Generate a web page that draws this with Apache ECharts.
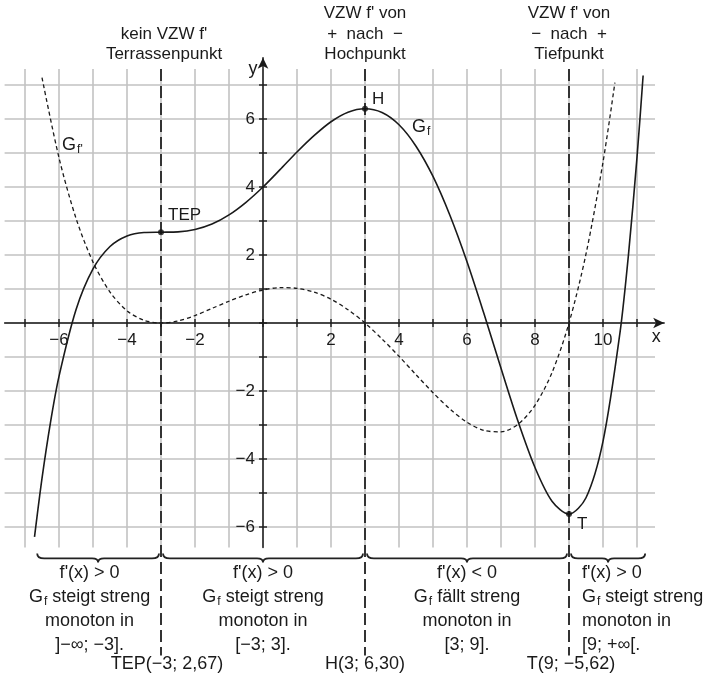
<!DOCTYPE html>
<html><head><meta charset="utf-8">
<script src="https://cdn.jsdelivr.net/npm/echarts@6/dist/echarts.min.js"></script>
<style>html,body{margin:0;padding:0;background:#fff}#c{width:709px;height:684px}</style>
</head><body><div id="c"></div>
<script>
// ---- data ----
const fX = [-6.72,-6.5,-6.25,-6,-5.5,-5,-4.5,-4,-3.5,-3,-2.5,-2,-1.5,-1,-0.5,0,0.5,1,1.5,2,2.5,3,3.5,4,4.5,5,5.5,6,6.5,7,7.5,8,8.5,9,9.5,10,10.5,10.75,11,11.18];
const fY = [-6.29,-4.57,-2.92,-1.57,0.39,1.59,2.25,2.56,2.66,2.67,2.68,2.75,2.91,3.18,3.55,4.00,4.51,5.03,5.51,5.92,6.20,6.30,6.19,5.83,5.20,4.31,3.16,1.80,0.27,-1.33,-2.89,-4.25,-5.24,-5.62,-5.14,-3.48,-0.28,2.02,4.87,7.28];
const dX = [-6.5,-6,-5.5,-5,-4.5,-4,-3.5,-3,-2.5,-2,-1.5,-1,-0.5,0,0.5,1,1.5,2,2.5,3,3.5,4,4.5,5,5.5,6,6.5,7,7.5,8,8.5,9,9.5,10,10.35];
const dY = [7.22,4.86,3.08,1.79,0.91,0.36,0.08,0,0.06,0.22,0.43,0.64,0.83,0.97,1.04,1.02,0.91,0.70,0.39,0,-0.47,-0.98,-1.52,-2.05,-2.53,-2.92,-3.16,-3.20,-2.98,-2.42,-1.46,0,2.03,4.73,7.07];
const gridXs = [-7,-6,-5,-4,-3,-2,-1,0,1,2,3,4,5,6,7,8,9,10,11];
const gridYs = [-6,-5,-4,-3,-2,-1,0,1,2,3,4,5,6,7];
const xTickLabels = [-6,-4,-2,2,4,6,8,10];
const yTickLabels = [-6,-4,-2,2,4,6];
const specialX = [-3,3,9];
const specialNames = ['TEP','H','T'];
const specialY = [2.67,6.30,-5.62];
const braceFrom = [-6.7,-3,3,9];
const braceTo = [-3,3,9,11.3];
const topNotes = [
  ["kein VZW f'","Terrassenpunkt"],
  ["VZW f' von","+  nach  \u2212","Hochpunkt"],
  ["VZW f' von","\u2212  nach  +","Tiefpunkt"]
];
const bottomNotes = [
  ["f'(x) > 0","{g|G}{s|f} steigt streng","monoton in","]\u2212\u221e; \u22123]."],
  ["f'(x) > 0","{g|G}{s|f} steigt streng","monoton in","[\u22123; 3]."],
  ["f'(x) < 0","{g|G}{s|f} fällt streng","monoton in","[3; 9]."],
  ["f'(x) > 0","{g|G}{s|f} steigt streng","monoton in","[9; +\u221e[."]
];
const pointNotes = ["TEP(\u22123; 2,67)","H(3; 6,30)","T(9; \u22125,62)"];

// ---- layout / style ----
const X_MIN=-7.6, X_MAX=11.8, Y_MIN=-6.6, Y_MAX=7.8;
const GRID_TOP_Y=7.47, GRID_RIGHT_X=11.53;
const FONT='"Liberation Sans", Arial, Helvetica, sans-serif';
const INK='#1a1a1a';
const fmt = v => v < 0 ? '\u2212' + Math.abs(v) : String(v);
const richSub = {
  g:{fontSize:18,fontFamily:FONT,color:INK},
  s:{fontSize:12,fontFamily:FONT,color:INK,padding:[9,0,0,1]}
};

const chart = echarts.init(document.getElementById('c'));

function lineEl(a,b,stroke,w,dash){
  const s={stroke:stroke,lineWidth:w};
  if(dash) s.lineDash=dash;
  return {type:'line',shape:{x1:a[0],y1:a[1],x2:b[0],y2:b[1]},style:s};
}
function textEl(x,y,t,size,align,vAlign){
  return {type:'text',x:x,y:y,style:{text:t,fill:INK,font:size+'px '+FONT,align:align,verticalAlign:vAlign,textAlign:align,textVerticalAlign:vAlign}};
}

const option = {
  animation:false,
  grid:{left:4.6,top:57.8,width:659.6,height:489.6,containLabel:false,outerBoundsMode:'none'},
  xAxis:{type:'value',min:X_MIN,max:X_MAX,z:3,
    axisLine:{onZero:true,symbol:['none','arrow'],symbolSize:[8,11],lineStyle:{color:INK,width:1.5}},
    axisTick:{show:false},splitLine:{show:false},axisLabel:{show:false}},
  yAxis:{type:'value',min:Y_MIN,max:Y_MAX,z:3,
    axisLine:{onZero:true,symbol:['none','arrow'],symbolSize:[8,11],lineStyle:{color:INK,width:1.5}},
    axisTick:{show:false},splitLine:{show:false},axisLabel:{show:false}},
  series:[
    {type:'custom',silent:true,z:1,clip:false,data:gridXs.map(v=>[v,0]),
      renderItem:(p,api)=>lineEl(api.coord([api.value(0),Y_MIN]),api.coord([api.value(0),GRID_TOP_Y]),'#c2c2c2',1.6)},
    {type:'custom',silent:true,z:1,clip:false,data:gridYs.map(v=>[0,v]),
      renderItem:(p,api)=>lineEl(api.coord([X_MIN,api.value(1)]),api.coord([GRID_RIGHT_X,api.value(1)]),'#c2c2c2',1.6)},
    {type:'custom',silent:true,z:4,clip:false,data:gridXs.map(v=>[v,0]),
      renderItem:(p,api)=>{const c=api.coord([api.value(0),0]);return lineEl([c[0],c[1]-4],[c[0],c[1]+4],INK,1.4);}},
    {type:'custom',silent:true,z:4,clip:false,data:gridYs.map(v=>[0,v]),
      renderItem:(p,api)=>{const c=api.coord([0,api.value(1)]);return lineEl([c[0]-4,c[1]],[c[0]+4,c[1]],INK,1.4);}},
    {type:'custom',silent:true,z:4,clip:false,data:xTickLabels.map(v=>[v,0]),
      renderItem:(p,api)=>{const c=api.coord([api.value(0),0]);return textEl(c[0],c[1]+9,fmt(api.value(0)),17,'center','top');}},
    {type:'custom',silent:true,z:4,clip:false,data:yTickLabels.map(v=>[0,v]),
      renderItem:(p,api)=>{const c=api.coord([0,api.value(1)]);return textEl(c[0]-8,c[1],fmt(api.value(1)),17,'right','middle');}},
    {type:'custom',silent:true,z:3,clip:false,data:specialX.map(v=>[v,0]),
      renderItem:(p,api)=>{const a=api.coord([api.value(0),GRID_TOP_Y]);const b=api.coord([api.value(0),Y_MIN]);
        return lineEl(a,[b[0],b[1]+108],'#333',2,[12,5]);}},
    {type:'custom',silent:true,z:3,clip:false,data:braceFrom.map((v,i)=>[v,Y_MIN,braceTo[i]]),
      renderItem:(p,api)=>{const a=api.coord([api.value(0),Y_MIN]);const b=api.coord([api.value(2),Y_MIN]);
        const y=a[1]+11, x0=a[0]+2, x1=b[0]-2, xm=(x0+x1)/2;
        const d=`M${x0} ${y-5} Q${x0} ${y} ${x0+7} ${y} L${xm-6} ${y} Q${xm} ${y} ${xm} ${y+4} Q${xm} ${y} ${xm+6} ${y} L${x1-7} ${y} Q${x1} ${y} ${x1} ${y-5}`;
        return {type:'path',shape:{pathData:d},style:{stroke:'#222',lineWidth:1.8,fill:null}};}},
    {name:"G_f'",type:'line',z:5,smooth:0.3,showSymbol:false,silent:true,
      data:dX.map((x,i)=>[x,dY[i]]),lineStyle:{color:INK,width:1.3,type:[4,3]}},
    {name:'G_f',type:'line',z:6,smooth:0.3,showSymbol:false,silent:true,
      data:fX.map((x,i)=>[x,fY[i]]),lineStyle:{color:INK,width:1.6}},
    {type:'scatter',z:7,silent:true,symbolSize:6,itemStyle:{color:'#111'},
      data:specialX.map((x,i)=>({value:[x,specialY[i],specialNames[i]],
        label:{show:true,position:'right',distance:2,formatter:specialNames[i],fontSize:17,color:INK,fontFamily:FONT,
          textBorderWidth:0,opacity:1,offset:[[2,-17],[2,-9],[3,10]][i]}}))}
  ]
};
chart.setOption(option);

const px = (x,y)=>chart.convertToPixel({gridIndex:0},[x,y]);
const gTop = px(0,Y_MAX)[1], gBot = px(0,Y_MIN)[1];
function txt(x,y,text,size,align,rich){
  const st={text:text,fill:INK,font:size+'px '+FONT,align:align,verticalAlign:'middle',textAlign:align,textVerticalAlign:'middle'};
  if(rich) st.rich=rich;
  return {type:'text',x:x,y:y,z:100,silent:true,style:st};
}
const g=[];
const topShift=[3,0,0];
topNotes.forEach((lines,k)=>{
  const cx=px(specialX[k],0)[0]+topShift[k];
  const n=lines.length;
  lines.forEach((s,i)=>g.push(txt(cx,gTop-3-(n-1-i)*20.5,s,17,'center')));
});
const bottomAnchor=[-5.1,0,6.0,9.38];
const bottomAlign=['center','center','center','left'];
bottomNotes.forEach((lines,k)=>{
  const cx=px(bottomAnchor[k],0)[0];
  lines.forEach((s,i)=>g.push(txt(cx,gBot+26+i*24,s,18,bottomAlign[k],richSub)));
});
const pointShift=[6,0,2];
pointNotes.forEach((s,k)=>g.push(txt(px(specialX[k],0)[0]+pointShift[k],gBot+117,s,18,'center')));
const o=px(X_MAX,0); g.push(txt(o[0]-8,o[1]+14,'x',18,'center'));
const q=px(0,Y_MAX); g.push(txt(q[0]-10,q[1]+11,'y',18,'center'));
const lf=px(4.38,5.76); g.push(txt(lf[0],lf[1],'{g|G}{s|f}',18,'left',richSub));
const ld=px(-5.91,5.24); g.push(txt(ld[0],ld[1],"{g|G}{s|f'}",18,'left',richSub));
chart.setOption({graphic:g});
</script></body></html>
